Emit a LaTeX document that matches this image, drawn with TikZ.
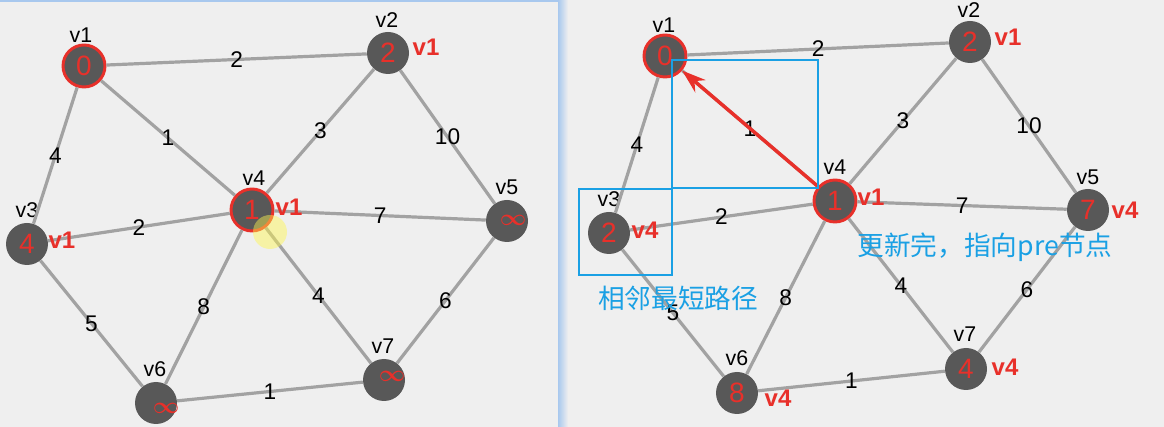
\documentclass[tikz,border=0pt]{standalone}
\usepackage{fontspec}
\setmainfont{Liberation Sans}
\newfontfamily\cjk{Noto Sans CJK SC}
\usetikzlibrary{arrows.meta}
\definecolor{bgray}{HTML}{EFEFEF}
\definecolor{vgray}{HTML}{585858}
\definecolor{egray}{HTML}{A2A2A2}
\definecolor{vred}{HTML}{E8302A}
\definecolor{hblue}{HTML}{1AA0E4}
\definecolor{sblue}{HTML}{A8C8EE}
\newcommand{\unreached}{$\infty$}

\tikzset{
	vert/.style={circle,fill=vgray,minimum size=31.5pt,inner sep=0pt,text=vred,font=\fontsize{21}{21}\selectfont},
	seen/.style={vert,draw=vred,line width=2.2pt},
	edge/.style={draw=egray,line width=2.4pt},
	wt/.style={text=black,inner sep=1pt,font=\fontsize{17}{17}\selectfont},
	vname/.style={text=black,inner sep=0pt,font=\fontsize{16}{16}\selectfont},
	pre/.style={text=vred,inner sep=0pt,font=\bfseries\fontsize{18}{18}\selectfont},
	infty/.style={text=vred,inner sep=0pt,font=\fontsize{18}{18}\selectfont\boldmath},
	hbox/.style={draw=hblue,line width=2.2pt},
	note/.style={text=hblue,inner sep=0pt,font=\cjk\fontsize{20}{20}\selectfont},
}

\begin{document}
\begin{tikzpicture}[x=0.75pt,y=-0.75pt]
	\useasboundingbox (0,0) rectangle (1164,427);
	\fill[bgray] (0,0) rectangle (1164,427);
	% window edge
	\fill[sblue] (0,0) rectangle (566,2);
	\shade[left color=sblue,right color=bgray] (558,0) rectangle (568,427);
	\fill[bgray] (0,2) rectangle (558,427);

	% left graph
	\node[seen] (a1) at (84,66) {0};
	\node[vert] (a2) at (388,53) {2};
	\node[vert] (a3) at (27,244) {4};
	\node[seen] (a4) at (252,210) {1};
	\node[vert] (a5) at (507,221) {};
	\node[vert] (a6) at (156,403) {};
	\node[vert] (a7) at (384,380) {};
	\node[infty] (i5) at (513,220) {\unreached};
	\node[infty] (i6) at (166,408) {\unreached};
	\node[infty] (i7) at (392,376) {\unreached};
	\node[vname] (n1) at (81,35) {v1};
	\node[vname] (n2) at (387,20) {v2};
	\node[vname] (n3) at (27,210) {v3};
	\node[vname] (n4) at (254,178) {v4};
	\node[vname] (n5) at (507,187) {v5};
	\node[vname] (n6) at (155,369) {v6};
	\node[vname] (n7) at (383,346) {v7};
	\draw[edge] (a1) -- node[wt]{2} (a2);
	\draw[edge] (a1) -- node[wt]{1} (a4);
	\draw[edge] (a1) -- node[wt]{4} (a3);
	\draw[edge] (a4) -- node[wt]{3} (a2);
	\draw[edge] (a2) -- node[wt]{10} (a5);
	\draw[edge] (a3) -- node[wt]{2} (a4);
	\draw[edge] (a4) -- node[wt]{7} (a5);
	\draw[edge] (a3) -- node[wt]{5} (a6);
	\draw[edge] (a4) -- node[wt]{8} (a6);
	\draw[edge] (a4) -- node[wt]{4} (a7);
	\draw[edge] (a7) -- node[wt]{6} (a5);
	\draw[edge] (a6) -- node[wt]{1} (a7);
	\node[pre] (p2) at (426,47) {v1};
	\node[pre] (p3) at (62,240) {v1};
	\node[pre] (p4) at (289,207) {v1};
	% cursor spot
	\fill[yellow!70!white,opacity=.45] (270,232) circle (17);

	% right graph
	\node[seen] (b1) at (665,56) {0};
	\node[vert] (b2) at (970,42) {2};
	\node[vert] (b3) at (609,233) {2};
	\node[seen] (b4) at (835,201) {1};
	\node[vert] (b5) at (1088,210) {7};
	\node[vert] (b6) at (737,393) {8};
	\node[vert] (b7) at (966,369) {4};
	\node[vname] (m1) at (664,25) {v1};
	\node[vname] (m2) at (969,10) {v2};
	\node[vname] (m3) at (609,199) {v3};
	\node[vname] (m4) at (835,167) {v4};
	\node[vname] (m5) at (1088,177) {v5};
	\node[vname] (m6) at (737,358) {v6};
	\node[vname] (m7) at (965,334) {v7};
	\draw[edge] (b1) -- node[wt]{2} (b2);
	\draw[edge] (b1) -- node[wt]{1} (b4);
	\draw[edge] (b1) -- node[wt]{4} (b3);
	\draw[edge] (b4) -- node[wt]{3} (b2);
	\draw[edge] (b2) -- node[wt]{10} (b5);
	\draw[edge] (b3) -- node[wt]{2} (b4);
	\draw[edge] (b4) -- node[wt]{7} (b5);
	\draw[edge] (b3) -- node[wt]{5} (b6);
	\draw[edge] (b4) -- node[wt]{8} (b6);
	\draw[edge] (b4) -- node[wt]{4} (b7);
	\draw[edge] (b7) -- node[wt]{6} (b5);
	\draw[edge] (b6) -- node[wt]{1} (b7);
	\node[pre] (q2) at (1008,37) {v1};
	\node[pre] (q3) at (645,230) {v4};
	\node[pre] (q4) at (871,197) {v1};
	\node[pre] (q5) at (1125,210) {v4};
	\node[pre] (q6) at (778,398) {v4};
	\node[pre] (q7) at (1005,367) {v4};
	% pointer back to pre
	\draw[vred,line width=2.6pt,-{Stealth[length=18pt,width=12pt]}] (b4) -- (b1);
	% marks
	\draw[hbox] (672,60) rectangle (818,188);
	\draw[hbox] (579,189) rectangle (672,275);
	\node[note] (t1) at (678,298) {相邻最短路径};
	\node[note] (t2) at (985,247) {更新完，指向pre节点};
\end{tikzpicture}
\end{document}
